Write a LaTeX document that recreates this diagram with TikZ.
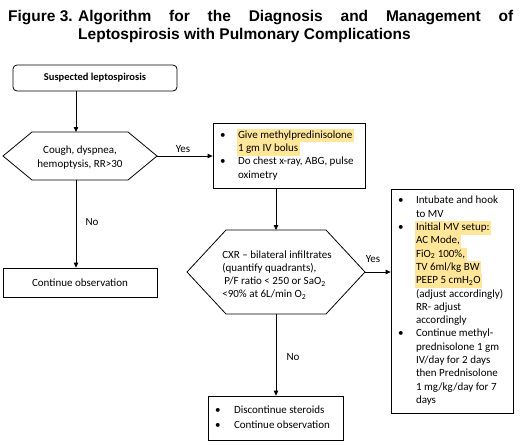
\documentclass[tikz,border=0pt]{standalone}
\usepackage{fontspec}
\setmainfont{Carlito}
\newfontfamily\titlefont{Liberation Sans}
\usetikzlibrary{arrows.meta}
\definecolor{hl}{RGB}{255,230,153}
\newcommand\hlt[1]{\hspace*{-1.5pt}{\setlength{\fboxsep}{0pt}\colorbox{hl}{\rule[-3.99pt]{0pt}{13.3pt}\hspace{1.5pt}#1\hspace{1.5pt}}}}
\newcommand\bodyfont{\fontsize{11}{13.3}\selectfont}
\newcommand\ttlfont{\titlefont\bfseries\fontsize{15.5}{18}\selectfont}
\begin{document}
\begin{tikzpicture}[x=1pt,y=-1pt,
  box/.style={draw, line width=0.8pt, inner sep=0pt, font=\bodyfont},
  hexline/.style={draw, line width=0.8pt},
  conn/.style={line width=0.8pt, -{Triangle[length=5pt,width=4.5pt]}},
  lbl/.style={font=\bodyfont, inner sep=0pt},
  txt/.style={font=\bodyfont, inner sep=0pt},
  ttl/.style={font=\ttlfont, inner sep=0pt, anchor=base west}]
\useasboundingbox (0,0) rectangle (526,445);
% title
\node[ttl] (t1) at (8,21) {Figure 3.};
\node[ttl] (t2) at (78,21) {\makebox[435pt][s]{Algorithm for the Diagnosis and Management of}};
\node[ttl] (t3) at (78,39) {Leptospirosis with Pulmonary Complications};
% start
\node[box, rounded corners=4pt, minimum width=164pt, minimum height=26pt,
      font=\bfseries\fontsize{10.5}{12}\selectfont] (sus) at (95,78) {Suspected leptospirosis};
% hexagon 1
\coordinate (h1l) at (3,156);
\coordinate (h1r) at (157,156);
\coordinate (h1t) at (76,132);
\coordinate (h1b) at (76,180);
\draw[hexline] (h1l) -- (32,132) -- (128,132) -- (h1r) -- (128,180) -- (32,180) -- cycle;
\node[txt, align=center] (h1) at (80,157.5) {Cough, dyspnea,\\hemoptysis, RR>30};
% continue observation
\node[box, minimum width=154pt, minimum height=29pt] (obs) at (80,282.5) {Continue observation};
% box 2
\node[box, minimum width=152pt, minimum height=65pt] (box2) at (289,155.5) {%
\begin{tabular}{@{\hspace{7pt}}p{18pt}@{}p{127pt}@{}}
\textbullet & \hlt{Give methylpredinisolone}\\
 & \hlt{1 gm IV bolus}\\
\textbullet & Do chest x-ray, ABG, pulse\\
 & oximetry
\end{tabular}};
% hexagon 2
\coordinate (h2l) at (187,272);
\coordinate (h2r) at (365,272);
\coordinate (h2t) at (276,230);
\coordinate (h2b) at (276,314);
\draw[hexline] (h2l) -- (226,230) -- (326,230) -- (h2r) -- (326,314) -- (226,314) -- cycle;
\node[txt, align=left] (h2) at (277,275) {CXR -- bilateral infiltrates\\(quantify quadrants),\\\hspace*{2pt}P/F ratio < 250 or SaO\textsubscript{2}\\<90\% at 6L/min O\textsubscript{2}};
% box 3
\node[box, minimum width=122pt, minimum height=224pt] (box3) at (452,301) {%
\begin{tabular}{@{\hspace{7pt}}p{18pt}@{}p{97pt}@{}}
\textbullet & Intubate and hook\\
 & to MV\\
\textbullet & \hlt{Initial MV setup:}\\
 & \hlt{AC Mode,}\\
 & \hlt{FiO\textsubscript{2} 100\%,}\\
 & \hlt{TV 6ml/kg BW}\\
 & \hlt{PEEP 5 cmH\textsubscript{2}O}\\
 & (adjust accordingly)\\
 & RR- adjust\\
 & accordingly\\
\textbullet & Continue methyl-\\
 & prednisolone 1 gm\\
 & IV/day for 2 days\\
 & then Prednisolone\\
 & 1 mg/kg/day for 7\\
 & days
\end{tabular}};
% box 4
\node[box, minimum width=135pt, minimum height=44pt] (box4) at (275.5,418) {%
\renewcommand\arraystretch{1.1}%
\begin{tabular}{@{\hspace{7pt}}p{19pt}@{}p{109pt}@{}}
\textbullet & Discontinue steroids\\
\textbullet & Continue observation
\end{tabular}};
% connectors
\draw[conn] (sus.south -| h1t) -- (h1t);
\draw[conn] (h1r) -- (h1r -| box2.west);
\draw[conn] (h1b) -- (h1b |- obs.north);
\draw[conn] (box2.south -| h2t) -- (h2t);
\draw[conn] (h2r) -- (h2r -| box3.west);
\draw[conn] (h2b) -- (h2b |- box4.north);
% labels
\node[lbl] (yes1) at (183,149) {Yes};
\node[lbl] (no1) at (92,222) {No};
\node[lbl] (yes2) at (373,259) {Yes};
\node[lbl] (no2) at (293,357) {No};
\end{tikzpicture}
\end{document}
